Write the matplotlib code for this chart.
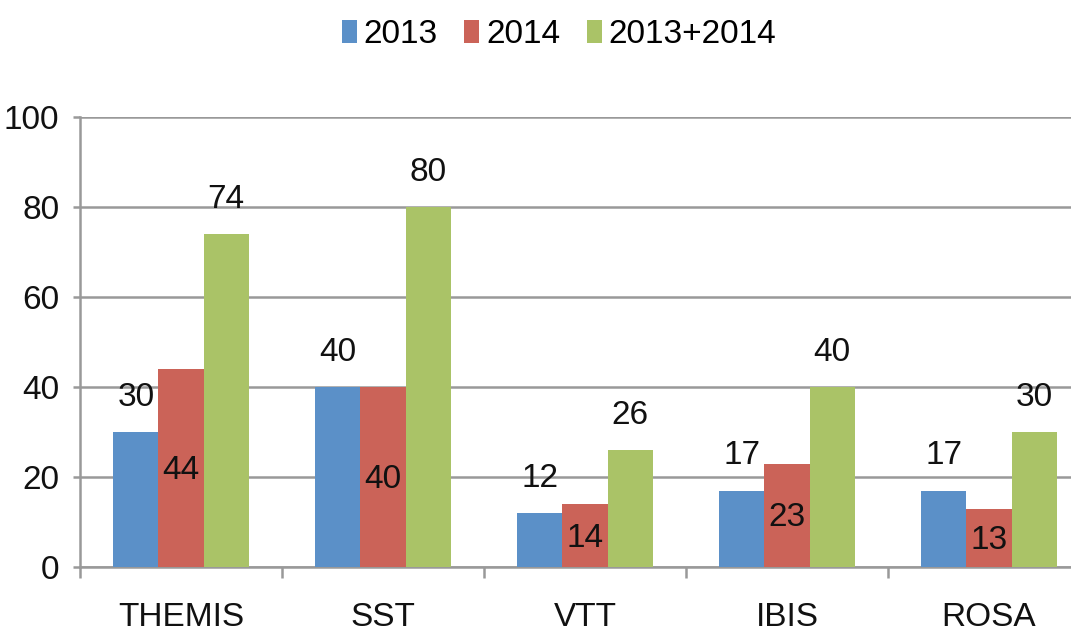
import matplotlib
matplotlib.use("Agg")
import matplotlib.pyplot as plt
import numpy as np

plt.rcParams['font.family'] = ['Liberation Sans Narrow', 'Liberation Sans', 'DejaVu Sans']
plt.rcParams['font.size'] = 24

# data
categories = ['THEMIS', 'SST', 'VTT', 'IBIS', 'ROSA']
series_names = ['2013', '2014', '2013+2014']
v2013 = [30, 40, 12, 17, 17]
v2014 = [44, 40, 14, 23, 13]
vboth = [74, 80, 26, 40, 30]
colors = ['#5B90C8', '#CB6358', '#AAC367']

grid_col = '#999999'

fig = plt.figure(figsize=(10.71, 6.31), dpi=100)
ax = fig.add_axes([80 / 1071, 64 / 631, 1010 / 1071, 450 / 631])

x = np.arange(len(categories))
w = 0.223

ax.bar(x - w, v2013, w, color=colors[0], label=series_names[0], zorder=3)
ax.bar(x, v2014, w, color=colors[1], label=series_names[1], zorder=3)
ax.bar(x + w, vboth, w, color=colors[2], label=series_names[2], zorder=3)

# value labels: 2013 and total above, 2014 inside
for xi, v in zip(x - w, v2013):
    ax.annotate(str(v), xy=(xi, v), xytext=(0, 19), textcoords='offset points',
                ha='center', va='baseline', color='#111111', zorder=4)
for xi, v in zip(x, v2014):
    ax.annotate(str(v), xy=(xi, v / 2), xytext=(0, -8), textcoords='offset points',
                ha='center', va='baseline', color='#111111', zorder=4)
for xi, v in zip(x + w, vboth):
    ax.annotate(str(v), xy=(xi, v), xytext=(0, 19), textcoords='offset points',
                ha='center', va='baseline', color='#111111', zorder=4)

ax.set_xlim(-0.5, len(categories) - 0.5)
ax.set_ylim(0, 100)
ax.set_yticks(np.arange(0, 101, 20))
ax.yaxis.grid(True, color=grid_col, linewidth=1.8, zorder=0)
ax.set_axisbelow(True)

ax.set_xticks(x)
ax.set_xticklabels(categories)
ax.set_xticks(np.arange(-0.5, len(categories), 1), minor=True)
ax.tick_params(axis='x', which='major', length=0, pad=25, colors='#111111')
ax.tick_params(axis='x', which='minor', length=8, width=1.8, color=grid_col)
ax.tick_params(axis='y', length=5, width=1.8, color=grid_col, pad=10, labelcolor='#111111')

for side in ['top', 'right']:
    ax.spines[side].set_visible(False)
for side in ['left', 'bottom']:
    ax.spines[side].set_color(grid_col)
    ax.spines[side].set_linewidth(1.8)

fig.legend(loc='center', bbox_to_anchor=(0.522, 0.945), ncol=3, frameon=False,
           handlelength=0.45, handleheight=0.65, handletextpad=0.2, columnspacing=0.8)

plt.savefig('out.png', dpi=100)
